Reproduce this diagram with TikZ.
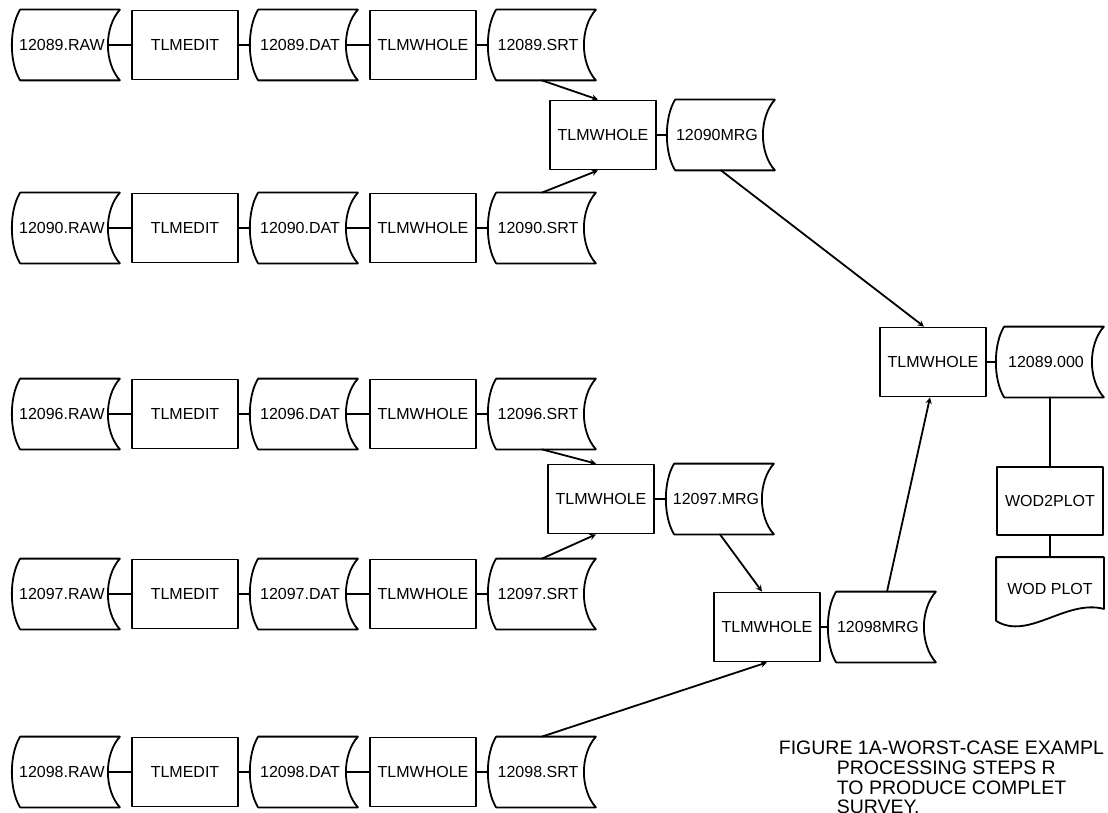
\documentclass[tikz,border=0pt]{standalone}
\usepackage{fontspec}
\setmainfont{Liberation Sans}
\begin{document}
\begin{tikzpicture}[x=1pt,y=-1pt,>=stealth,line width=1.8pt,line join=round,line cap=round,
	font=\fontsize{16}{18}\selectfont,
	proc/.style={draw,minimum width=106pt,minimum height=69pt,inner sep=0pt},
	dat/.style={minimum width=106pt,minimum height=69pt,inner sep=0pt,execute at end node=\kern8pt},
	doc/.style={minimum width=106pt,minimum height=62pt,inner sep=0pt}]
	\useasboundingbox (0,0) rectangle (1108,813);
	% the five runs
	\foreach \r/\y/\f in {1/45/12089,2/228/12090,3/414/12096,4/594/12097,5/772/12098}{
		\node[dat]  (raw\r) at (66,\y)  {\f.RAW};
		\node[proc] (ed\r)  at (185,\y) {TLMEDIT};
		\node[dat]  (dat\r) at (304,\y) {\f.DAT};
		\node[proc] (wh\r)  at (423,\y) {TLMWHOLE};
		\node[dat]  (srt\r) at (542,\y) {\f.SRT};
		\draw ([xshift=-12pt]raw\r.east)--(ed\r) (ed\r)--(dat\r.west)
		([xshift=-12pt]dat\r.east)--(wh\r) (wh\r)--(srt\r.west);
	}
	% merges
	\node[proc] (m1) at (603,135) {TLMWHOLE};
	\node[dat] (mrg1) at (721,135) {12090MRG};
	\node[proc] (m2) at (601,499) {TLMWHOLE};
	\node[dat] (mrg2) at (720,499) {12097.MRG};
	\node[proc] (m3) at (767,627) {TLMWHOLE};
	\node[dat] (mrg3) at (882,627) {12098MRG};
	\node[proc] (fin) at (933,362) {TLMWHOLE};
	\node[dat] (out) at (1050,362) {12089.000};
	\node[proc,minimum height=68pt] (wod2) at (1050,501) {WOD2PLOT};
	\node[doc] (wod) at (1050,589) {WOD PLOT};
	% data outlines
	\foreach \d in {raw1,dat1,srt1,raw2,dat2,srt2,raw3,dat3,srt3,raw4,dat4,srt4,raw5,dat5,srt5,mrg1,mrg2,mrg3,out}
	\draw ([xshift=8pt]\d.north west)--(\d.north east) .. controls +(-16,18) and +(-16,-18) .. (\d.south east)
	--([xshift=8pt]\d.south west) .. controls +(-11,-18) and +(-11,18) .. ([xshift=8pt]\d.north west)--cycle;
	\draw (wod.north west)--(wod.north east)--([yshift=12pt]wod.south east)
	.. controls +(-38,-10) and +(32,20) .. (wod.south west)--cycle;
	% connectors
	\draw[->] (srt1.south)--([xshift=-5pt]m1.north);
	\draw[->] (srt2.north)--([xshift=-5pt]m1.south);
	\draw[->] (mrg1.south)--([xshift=-9pt]fin.north);
	\draw[->] (srt3.south)--([xshift=-5pt]m2.north);
	\draw[->] (srt4.north)--([xshift=-5pt]m2.south);
	\draw[->] (mrg2.south)--([xshift=-5pt]m3.north);
	\draw[->] (srt5.north)--(m3.south);
	\draw[->] ([xshift=5pt]mrg3.north)--([xshift=-3pt]fin.south);
	\draw (m1)--(mrg1.west) (m2)--(mrg2.west) (m3)--(mrg3.west) (fin)--(out.west)
	(out.south)--(wod2) (wod2)--(wod);
	% caption
	\node[anchor=base west,inner sep=0pt,font=\fontsize{19.5}{20}\selectfont] (cap1) at (778,754) {FIGURE 1A-WORST-CASE EXAMPL};
	\foreach \t/\y in {PROCESSING STEPS R/774,TO PRODUCE COMPLET/794,SURVEY./813}
	\node[anchor=base west,inner sep=0pt,font=\fontsize{19.5}{20}\selectfont] at (836,\y) {\t};
\end{tikzpicture}
\end{document}
